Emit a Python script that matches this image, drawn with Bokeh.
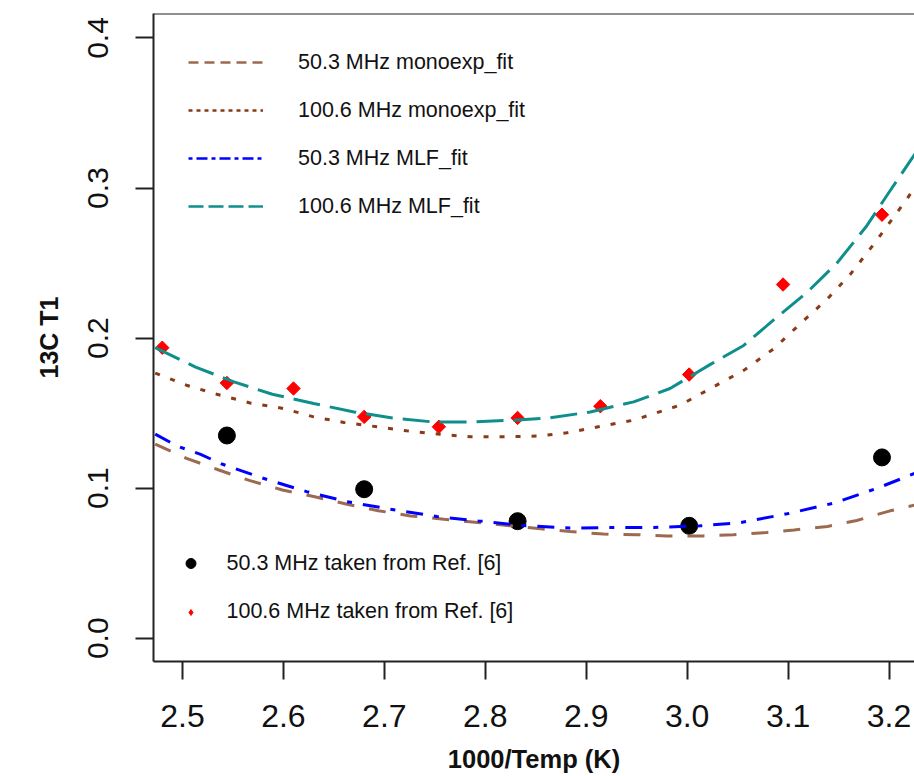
from bokeh.plotting import figure
from bokeh.models import Range1d, FixedTicker, PrintfTickFormatter, Legend, LegendItem, Span
from bokeh.embed import file_html
from bokeh.resources import INLINE
import numpy as np

# ---------------- data ----------------
# measured points, x = 1000/T
x_100 = [2.480, 2.544, 2.610, 2.680, 2.754, 2.832, 2.914, 3.002, 3.095, 3.193]
t1_100 = [0.1936, 0.1701, 0.1664, 0.1475, 0.1409, 0.1468, 0.1546, 0.1757, 0.2357, 0.2822]
x_50 = [2.544, 2.680, 2.832, 3.002, 3.193]
t1_50 = [0.1351, 0.0993, 0.0780, 0.0749, 0.1205]

# fitted curves
mono50_x = [2.473, 2.504, 2.536, 2.567, 2.599, 2.630, 2.663, 2.694, 2.726, 2.759, 2.790,
            2.822, 2.855, 2.884, 2.917, 2.950, 2.980, 3.016, 3.046, 3.079, 3.106, 3.139,
            3.168, 3.201, 3.226]
mono50_y = [0.1294, 0.1199, 0.1121, 0.1050, 0.0988, 0.0944, 0.0893, 0.0850, 0.0815, 0.0793,
            0.0773, 0.0751, 0.0729, 0.0711, 0.0694, 0.0690, 0.0682, 0.0682, 0.0690, 0.0705,
            0.0722, 0.0745, 0.0785, 0.0849, 0.0888]

mono100_x = [2.473, 2.504, 2.534, 2.567, 2.600, 2.630, 2.660, 2.693, 2.722, 2.755, 2.785,
             2.818, 2.851, 2.881, 2.912, 2.947, 2.993, 3.023, 3.056, 3.086, 3.112, 3.139,
             3.162, 3.185, 3.205, 3.218, 3.226]
mono100_y = [0.1767, 0.1686, 0.1626, 0.1568, 0.1531, 0.1475, 0.1438, 0.1409, 0.1382, 0.1360,
             0.1342, 0.1342, 0.1347, 0.1369, 0.1409, 0.1453, 0.1553, 0.1664, 0.1785, 0.1930,
             0.2096, 0.2262, 0.2428, 0.2627, 0.2810, 0.2930, 0.3010]

mlf50_x = [2.473, 2.495, 2.518, 2.539, 2.580, 2.623, 2.663, 2.706, 2.752, 2.793, 2.838,
           2.884, 2.921, 2.967, 3.013, 3.053, 3.099, 3.145, 3.188, 3.226]
mlf50_y = [0.1360, 0.1280, 0.1225, 0.1161, 0.1066, 0.0977, 0.0910, 0.0860, 0.0811, 0.0782,
           0.0751, 0.0734, 0.0738, 0.0738, 0.0749, 0.0771, 0.0829, 0.0900, 0.0999, 0.1100]

mlf100_x = [2.473, 2.513, 2.551, 2.589, 2.630, 2.670, 2.708, 2.747, 2.785, 2.827, 2.864,
            2.904, 2.947, 2.983, 3.023, 3.056, 3.089, 3.119, 3.149, 3.178, 3.201, 3.221, 3.226]
mlf100_y = [0.1936, 0.1807, 0.1708, 0.1626, 0.1564, 0.1508, 0.1468, 0.1442, 0.1440, 0.1453,
            0.1468, 0.1508, 0.1575, 0.1664, 0.1825, 0.1951, 0.2140, 0.2306, 0.2505, 0.2749,
            0.2982, 0.3181, 0.3230]

x_ticks = [2.5, 2.6, 2.7, 2.8, 2.9, 3.0, 3.1, 3.2]
y_ticks = [0.0, 0.1, 0.2, 0.3, 0.4]

x_title = "1000/Temp (K)"
y_title = "13C T1"
labels_fit = ["50.3 MHz monoexp_fit", "100.6 MHz monoexp_fit",
              "50.3 MHz MLF_fit", "100.6 MHz MLF_fit"]
labels_pts = ["50.3 MHz taken from Ref. [6]", "100.6 MHz taken from Ref. [6]"]

# ---------------- style ----------------
FONT = "Liberation Sans"
C_MONO50 = "#9C6A50"
C_MONO100 = "#8B3A18"
C_MLF50 = "#0000FF"
C_MLF100 = "#0E8F8C"
AX = "#222222"

W, H = 914, 776
ML, MT, MB = 153, 13, 115

p = figure(width=W, height=H, output_backend="svg", toolbar_location=None,
           x_range=Range1d(2.4713, 3.2252), y_range=Range1d(-0.0155, 0.4163),
           min_border_left=ML, min_border_right=0, min_border_top=MT, min_border_bottom=MB)
p.outline_line_color = None
p.grid.visible = False
p.background_fill_color = "white"

# axes
for ax in (p.xaxis[0], p.yaxis[0]):
    ax.axis_line_color = AX
    ax.axis_line_width = 2
    ax.major_tick_line_color = AX
    ax.major_tick_line_width = 2
    ax.major_tick_in = 0
    ax.major_tick_out = 18
    ax.minor_tick_line_color = None
    ax.major_label_text_font = FONT
    ax.major_label_text_color = "#111111"
    ax.axis_label_text_font = FONT
    ax.axis_label_text_font_style = "bold"
    ax.axis_label_text_color = "#111111"
    ax.formatter = PrintfTickFormatter(format="%.1f")

p.xaxis.ticker = FixedTicker(ticks=x_ticks)
p.yaxis.ticker = FixedTicker(ticks=y_ticks)
p.xaxis.major_label_text_font_size = "32px"
p.yaxis.major_label_text_font_size = "30px"
p.xaxis.major_label_standoff = 25
p.yaxis.major_label_standoff = 27
p.yaxis.major_label_orientation = "vertical"
p.xaxis.axis_label = x_title
p.xaxis.axis_label_text_font_size = "25.5px"
p.xaxis.axis_label_standoff = 15
p.yaxis.axis_label = y_title
p.yaxis.axis_label_text_font_size = "25px"
p.yaxis.axis_label_standoff = 23

# top border line (right border is off-picture in the reference)
p.add_layout(Span(location=0.4163, dimension="width", line_color=AX, line_width=2))

# points first, curves on top
p.scatter(x_50, t1_50, marker="circle", size=17, color="black")
p.scatter(x_100, t1_100, marker="square", angle=np.pi / 4, size=9.5, color="red")

p.line(mono50_x, mono50_y, line_color=C_MONO50, line_width=3, line_dash="17 15")
p.line(mono100_x, mono100_y, line_color=C_MONO100, line_width=3, line_dash="5 11")
p.line(mlf50_x, mlf50_y, line_color=C_MLF50, line_width=3, line_dash="17 11 5 11")
p.line(mlf100_x, mlf100_y, line_color=C_MLF100, line_width=3, line_dash="27 10")

# legend-only renderers (legend samples use a shorter dash pattern); no visible data
nan = [float("nan")]
lr = [
    p.line(nan, nan, line_color=C_MONO50, line_width=2.4, line_dash="10 6"),
    p.line(nan, nan, line_color=C_MONO100, line_width=2.4, line_dash="4 4"),
    p.line(nan, nan, line_color=C_MLF50, line_width=2.4, line_dash="4 4 11 4"),
    p.line(nan, nan, line_color=C_MLF100, line_width=2.4, line_dash="15 5"),
]
r_black = p.scatter(nan, nan, marker="circle", color="black")
r_red = p.scatter(nan, nan, marker="diamond", color="red")

def make_legend(items, loc, gw, gh, standoff, spacing):
    return Legend(items=items, location=loc, orientation="vertical",
                  glyph_width=gw, glyph_height=gh, label_height=gh,
                  label_standoff=standoff, spacing=spacing, padding=0, margin=0,
                  border_line_color=None, background_fill_alpha=0,
                  label_text_font=FONT, label_text_font_size="21.5px",
                  label_text_color="#111111")

leg1 = make_legend([LegendItem(label=l, renderers=[r]) for l, r in zip(labels_fit, lr)],
                   (35, 442), 75, 26, 35, 22)
leg2 = make_legend([LegendItem(label=labels_pts[0], renderers=[r_black])],
                   (24.5, 85), 25, 26, 24, 0)
leg3 = make_legend([LegendItem(label=labels_pts[1], renderers=[r_red])],
                   (29.5, 37), 15, 24, 29, 0)
for lg in (leg1, leg2, leg3):
    p.add_layout(lg)

open("out.html", "w").write(file_html(p, INLINE))
